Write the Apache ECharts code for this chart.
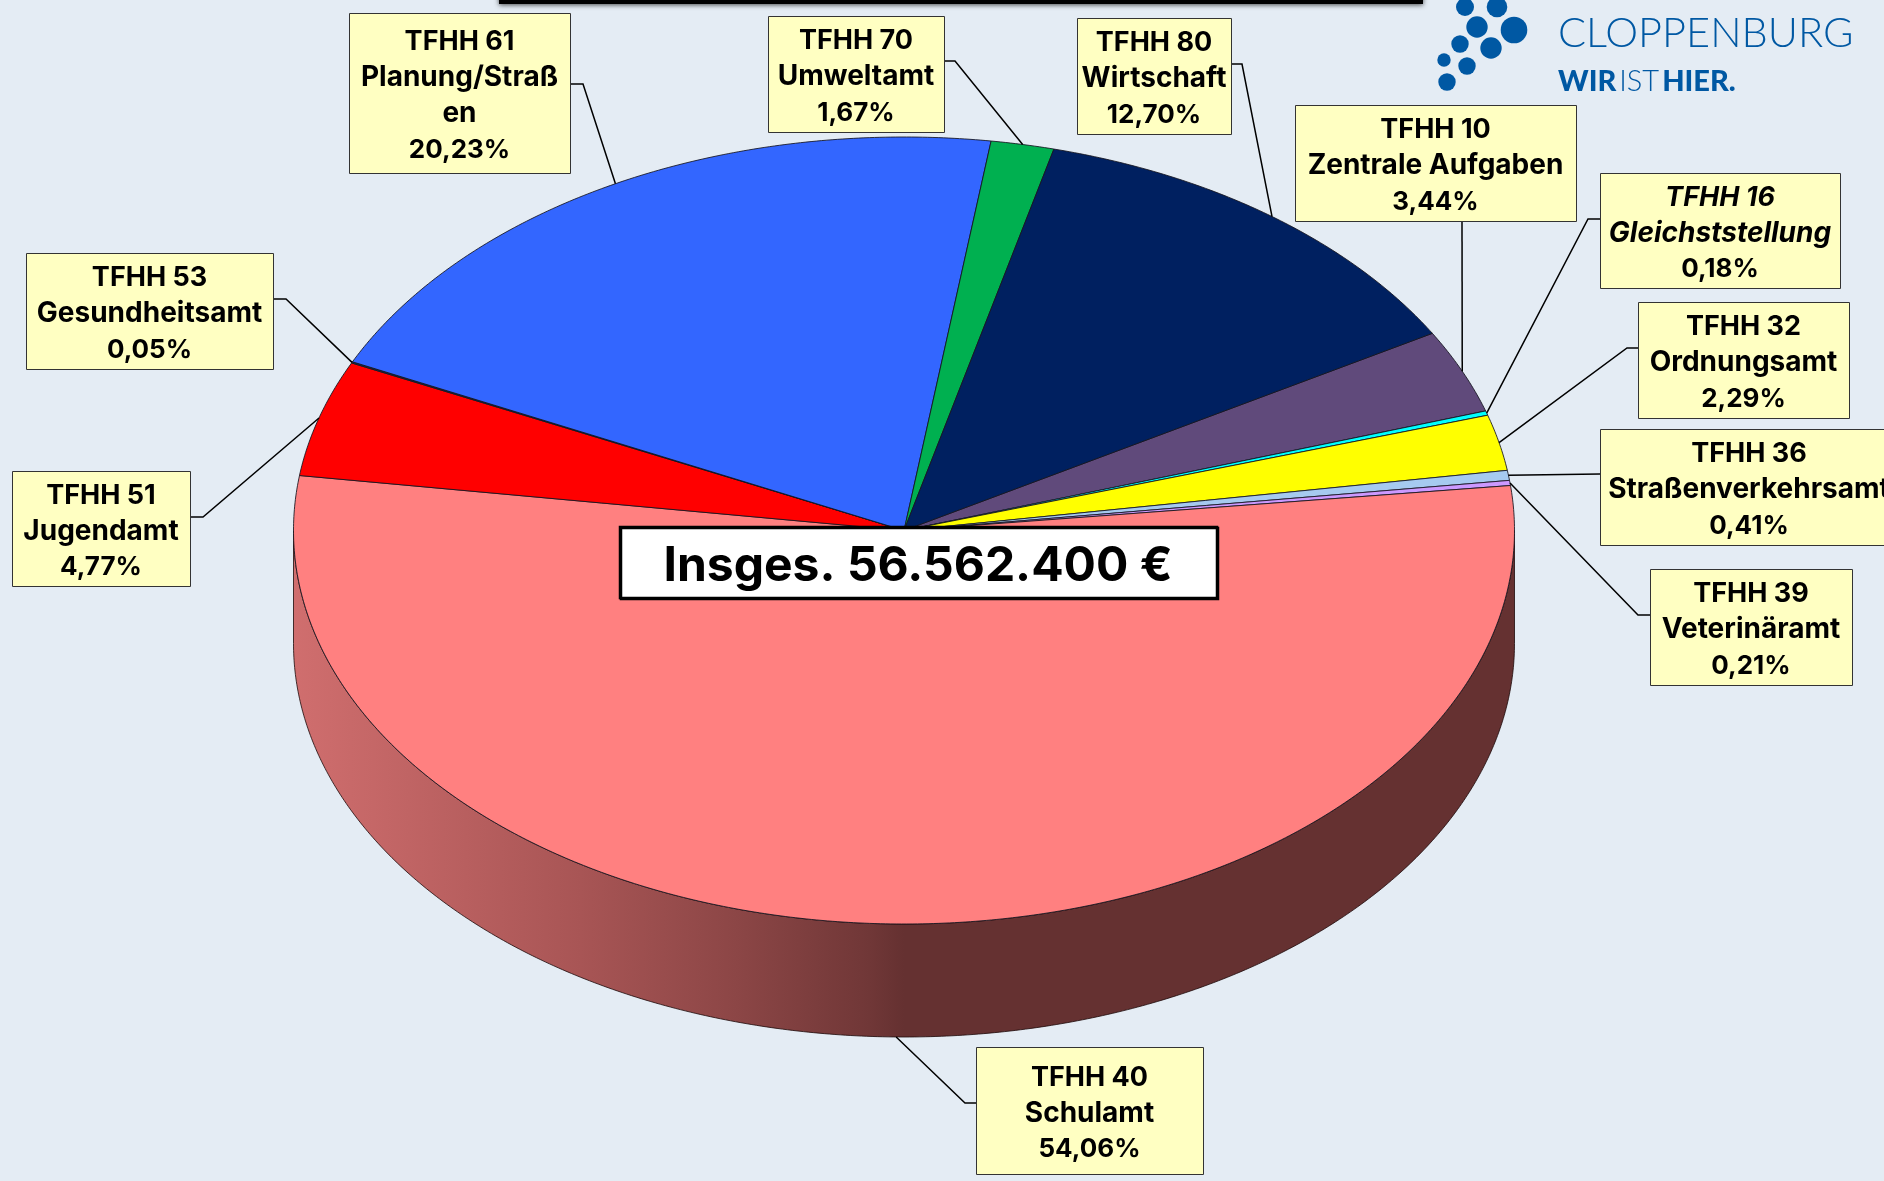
<!DOCTYPE html>
<html>
<head>
<meta charset="utf-8">
<title>TFHH</title>
<script src="https://cdn.jsdelivr.net/npm/echarts@6/dist/echarts.min.js"></script>
<style>
  html, body { margin: 0; padding: 0; background: #e4ecf4; overflow: hidden; }
  #chart { width: 1884px; height: 1181px; }
</style>
</head>
<body>
<div id="chart"></div>
<script>
// Daten
const codes = ['TFHH 10', 'TFHH 16', 'TFHH 32', 'TFHH 36', 'TFHH 39', 'TFHH 40', 'TFHH 51', 'TFHH 53', 'TFHH 61', 'TFHH 70', 'TFHH 80']
const names = ['Zentrale Aufgaben', 'Gleichststellung', 'Ordnungsamt', 'Straßenverkehrsamt', 'Veterinäramt', 'Schulamt', 'Jugendamt', 'Gesundheitsamt', 'Planung/Straß\nen', 'Umweltamt', 'Wirtschaft']
const shares = [3.44, 0.18, 2.29, 0.41, 0.21, 54.06, 4.77, 0.05, 20.23, 1.67, 12.70]
const totalText = 'Insges. 56.562.400 €'

// Farben
const sliceColors = ['#604a7b', '#00ffff', '#ffff00', '#a6caf0', '#cc99ff', '#ff8080', '#ff0000', '#17375e', '#3366ff', '#00b050', '#002060']
const wallStops = [
  { offset: 0, color: '#d06e6e' },
  { offset: 0.47, color: '#a85555' },
  { offset: 0.725, color: '#8c4646' },
  { offset: 0.944, color: '#703737' },
  { offset: 1, color: '#653131' }
]
const FONT = '"Inter", "Noto Sans", sans-serif'
const LOGO_FONT = '"Lato", "Noto Sans", sans-serif'

// Lage der Beschriftungen: Kasten [x, y, b, h], Abgang des Leitstrichs, Knick
const labelBoxes = [
  { box: [1295, 105, 281, 116], from: [1462, 221] },
  { box: [1600, 173, 240, 115], from: [1600, 219], bend: 1588, italic: true },
  { box: [1638, 302, 211, 116], from: [1638, 348], bend: 1627 },
  { box: [1600, 429, 298, 116], from: [1600, 474] },
  { box: [1650, 569, 202, 116], from: [1650, 615], bend: 1638 },
  { box: [976, 1047, 227, 127], from: [976, 1103], bend: 965, onWall: true },
  { box: [12, 471, 178, 115], from: [190, 517], bend: 203 },
  { box: [26, 253, 247, 116], from: [273, 299], bend: 286 },
  { box: [349, 13, 221, 160], from: [570, 84], bend: 583 },
  { box: [768, 16, 176, 116], from: [944, 61], bend: 955 },
  { box: [1077, 18, 154, 116], from: [1231, 64], bend: 1242 }
]

const logoDots = [
  [1465, 7, 9], [1497, 7, 10.3], [1477, 27, 10.7], [1514, 30, 13.3], [1460, 44, 8.7],
  [1491, 48, 10.7], [1444, 60, 6.7], [1467, 66, 8.7], [1447, 82, 8.7]
]

const START_ANGLE = 59.93 // Beginn von TFHH 10, Grad im Uhrzeigersinn ab oben
const DEPTH = 113 / 393.5 // Hoehe der Mantelflaeche in Achseneinheiten

// Winkelbereiche aus den Anteilen
const sum = shares.reduce((a, b) => a + b, 0)
let cursor = START_ANGLE
const sliceData = shares.map((v, i) => {
  const start = cursor
  cursor += v / sum * 360
  return [start, cursor, i]
})

const rad = d => d * Math.PI / 180
const rim = (t, drop) => [Math.sin(rad(t)), Math.cos(rad(t)) - (drop || 0)]

function arcPoints(api, a, b, drop) {
  const pts = []
  const n = Math.max(2, Math.ceil(Math.abs(b - a) * 2))
  for (let k = 0; k <= n; k++) {
    pts.push(api.coord(rim(a + (b - a) * k / n, drop)))
  }
  return pts
}

// Mantel: nur der sichtbare vordere Teil von 90 bis 270 Grad
function renderWall(params, api) {
  const a = Math.max(api.value(0), 90)
  const b = Math.min(api.value(1), 270)
  if (b <= a) return null
  const pts = arcPoints(api, a, b, 0).concat(arcPoints(api, b, a, DEPTH))
  return {
    type: 'polygon',
    shape: { points: pts },
    style: {
      fill: {
        type: 'linear',
        global: true,
        x: api.coord([-1, 0])[0], y: 0,
        x2: api.coord([0, 0])[0], y2: 0,
        colorStops: wallStops
      },
      stroke: 'rgba(30,10,10,0.8)',
      lineWidth: 1
    }
  }
}

function renderSlice(params, api) {
  const pts = [api.coord([0, 0])].concat(arcPoints(api, api.value(0), api.value(1), 0))
  return {
    type: 'polygon',
    shape: { points: pts },
    style: {
      fill: sliceColors[api.value(2)],
      stroke: 'rgba(20,20,30,0.85)',
      lineWidth: 1
    }
  }
}

function renderLabel(params, api) {
  const i = api.value(2)
  const item = labelBoxes[i]
  const mid = (api.value(0) + api.value(1)) / 2
  const anchor = api.coord(rim(mid, item.onWall ? DEPTH : 0))
  const line = [item.from]
  if (item.bend) line.push([item.bend, item.from[1]])
  line.push(anchor)
  const [x, y, w, h] = item.box
  const slant = item.italic ? 'italic ' : ''
  const pct = shares[i].toFixed(2).replace('.', ',') + '%'
  const nameLines = names[i].split('\n').map(s => '{n|' + s + '}')
  return {
    type: 'group',
    children: [
      {
        type: 'polyline',
        shape: { points: line },
        style: { fill: 'none', stroke: '#000', lineWidth: 1.5 }
      },
      {
        type: 'rect',
        shape: { x: x + 0.5, y: y + 0.5, width: w, height: h },
        style: { fill: '#ffffc2', stroke: '#333', lineWidth: 1 }
      },
      {
        type: 'text',
        style: {
          x: x + w / 2,
          y: y + h / 2 + 3,
          text: ['{c|' + codes[i] + '}'].concat(nameLines, '{p|' + pct + '}').join('\n'),
          align: 'center',
          verticalAlign: 'middle',
          rich: {
            c: { font: slant + 'bold 27px ' + FONT, fill: '#000', lineHeight: 36 },
            n: { font: slant + 'bold 28px ' + FONT, fill: '#000', lineHeight: 36 },
            p: { font: 'bold 26px ' + FONT, fill: '#000', lineHeight: 36 }
          }
        }
      }
    ]
  }
}

const chart = echarts.init(document.getElementById('chart'), null, { renderer: 'canvas' })

const option = {
  animation: false,
  backgroundColor: '#e4ecf4',
  grid: { left: 293.5, top: 137, width: 1221, height: 900 },
  xAxis: { type: 'value', min: -1, max: 1, show: false },
  yAxis: { type: 'value', min: -1 - DEPTH, max: 1, show: false },
  series: [
    { type: 'custom', coordinateSystem: 'cartesian2d', data: sliceData, renderItem: renderWall, z: 2, silent: true },
    { type: 'custom', coordinateSystem: 'cartesian2d', data: sliceData, renderItem: renderSlice, z: 3, silent: true },
    { type: 'custom', coordinateSystem: 'cartesian2d', data: sliceData, renderItem: renderLabel, z: 4, silent: true }
  ],
  graphic: [
    // abgeschnittener Titelbalken oben
    {
      type: 'rect', z: 10,
      shape: { x: 499, y: -10, width: 924, height: 14 },
      style: { fill: '#000', shadowBlur: 5, shadowColor: 'rgba(0,0,0,0.7)', shadowOffsetY: 1 }
    },
    {
      type: 'rect', z: 10,
      shape: { x: 620, y: 527, width: 597, height: 71 },
      style: { fill: '#fff', stroke: '#000', lineWidth: 2.5, shadowBlur: 0, shadowColor: '#000', shadowOffsetX: 1, shadowOffsetY: 1 }
    },
    {
      type: 'text', z: 11,
      style: {
        x: 918, y: 567,
        text: totalText,
        align: 'center', verticalAlign: 'middle',
        fill: '#000',
        font: 'bold 48px ' + FONT
      }
    },
    // Logo
    ...logoDots.map(d => ({
      type: 'circle', z: 10,
      shape: { cx: d[0], cy: d[1], r: d[2] },
      style: { fill: '#0058a3' }
    })),
    {
      type: 'text', z: 10,
      style: {
        x: 1558, y: 34,
        text: 'CLOPPENBURG',
        align: 'left', verticalAlign: 'middle',
        fill: '#0058a3',
        font: '300 41.5px ' + LOGO_FONT
      }
    },
    {
      type: 'text', z: 10,
      style: {
        x: 1558, y: 82,
        text: '{b|WIR}{l|IST}{b|HIER.}',
        align: 'left', verticalAlign: 'middle',
        rich: {
          b: { font: '900 29px ' + LOGO_FONT, fill: '#0058a3' },
          l: { font: '300 29px ' + LOGO_FONT, fill: '#0058a3', padding: [0, 3] }
        }
      }
    }
  ]
}

chart.setOption(option)
</script>
</body>
</html>
